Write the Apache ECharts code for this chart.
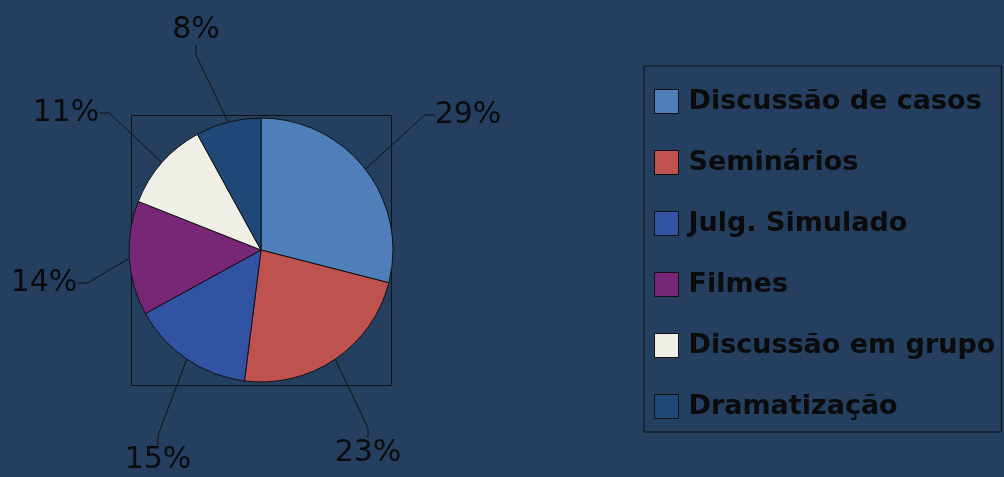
<!DOCTYPE html>
<html>
<head>
<meta charset="utf-8">
<style>
  html, body { margin: 0; padding: 0; background: #243F60; }
  #chart { width: 1004px; height: 477px; }
</style>
<script src="https://cdn.jsdelivr.net/npm/echarts@6/dist/echarts.min.js"></script>
</head>
<body>
<div id="chart"></div>
<script>
  // categories and values
  var categories = ['Discussão de casos', 'Seminários', 'Julg. Simulado', 'Filmes', 'Discussão em grupo', 'Dramatização'];
  var values = [29, 23, 15, 14, 11, 8];
  var colors = ['#4F7FB8', '#BE524E', '#3252A3', '#782776', '#EFEFE8', '#1F4878'];

  var FONT = '"Comic Sans MS", "DejaVu Sans", sans-serif';

  // where each percent label sits (label centre, px)
  var labelSpots = [[468, 115], [368, 453], [158, 460], [44, 283], [66, 113], [196, 30]];

  var chart = echarts.init(document.getElementById('chart'));

  var option = {
    backgroundColor: '#243F60',
    color: colors,
    textStyle: { fontFamily: FONT },
    graphic: [{
      // frame round the pie
      type: 'rect',
      shape: { x: 131.5, y: 115.5, width: 260, height: 270 },
      style: { fill: null, stroke: '#111', lineWidth: 1 },
      silent: true
    }],
    legend: {
      orient: 'vertical',
      left: 644,
      top: 66,
      padding: [22, 6, 12, 10],
      itemWidth: 24,
      itemHeight: 24,
      itemGap: 34,
      icon: 'rect',
      borderColor: '#111',
      borderWidth: 1,
      itemStyle: { borderColor: '#111', borderWidth: 1 },
      textStyle: {
        color: '#0b0b0b',
        fontSize: 27,
        fontWeight: 'bold',
        padding: [0, 0, 0, 5],
        fontFamily: FONT
      },
      data: categories
    },
    series: [{
      type: 'pie',
      center: [261, 250],
      radius: 132,
      startAngle: 90,
      clockwise: true,
      avoidLabelOverlap: false,
      itemStyle: { borderColor: '#111', borderWidth: 1 },
      label: {
        show: true,
        formatter: '{c}%',
        color: '#0b0b0b',
        fontSize: 30,
        fontFamily: FONT
      },
      labelLine: {
        show: true,
        length: 45,
        length2: 10,
        lineStyle: { color: '#111', width: 1 }
      },
      labelLayout: function (params) {
        var p = labelSpots[params.dataIndex];
        return { x: p[0], y: p[1], align: 'center', verticalAlign: 'middle' };
      },
      emphasis: { disabled: true },
      data: categories.map(function (name, i) {
        return { name: name, value: values[i] };
      })
    }]
  };

  chart.setOption(option);
</script>
</body>
</html>
